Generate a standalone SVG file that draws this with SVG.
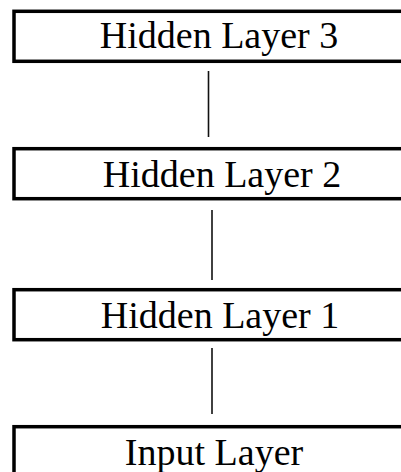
<svg xmlns="http://www.w3.org/2000/svg" width="401" height="472" viewBox="0 0 401 472">
<style>
.box{fill:#fff;stroke:#000;stroke-width:3.5}
.lbl{font-family:"Liberation Serif","Times New Roman",serif;font-size:38px;fill:#000;text-anchor:middle}
.conn line{stroke:#111;stroke-width:1.6}
</style>
<rect width="401" height="472" fill="#fff"/>
<g id="connectors" class="conn">
<line x1="208.5" y1="71" x2="208.5" y2="137"/>
<line x1="212" y1="210" x2="212" y2="280"/>
<line x1="212" y1="348" x2="212" y2="414"/>
</g>
<g id="hidden3">
<rect class="box" x="14" y="11.3" width="410" height="50"/>
<text class="lbl" x="219" y="48">Hidden Layer 3</text>
</g>
<g id="hidden2">
<rect class="box" x="14" y="148.7" width="410" height="50"/>
<text class="lbl" x="222" y="186.5">Hidden Layer 2</text>
</g>
<g id="hidden1">
<rect class="box" x="14" y="289.7" width="410" height="50"/>
<text class="lbl" x="220" y="328">Hidden Layer 1</text>
</g>
<g id="input">
<rect class="box" x="14" y="426.7" width="410" height="60"/>
<text class="lbl" x="214" y="465">Input Layer</text>
</g>
</svg>
